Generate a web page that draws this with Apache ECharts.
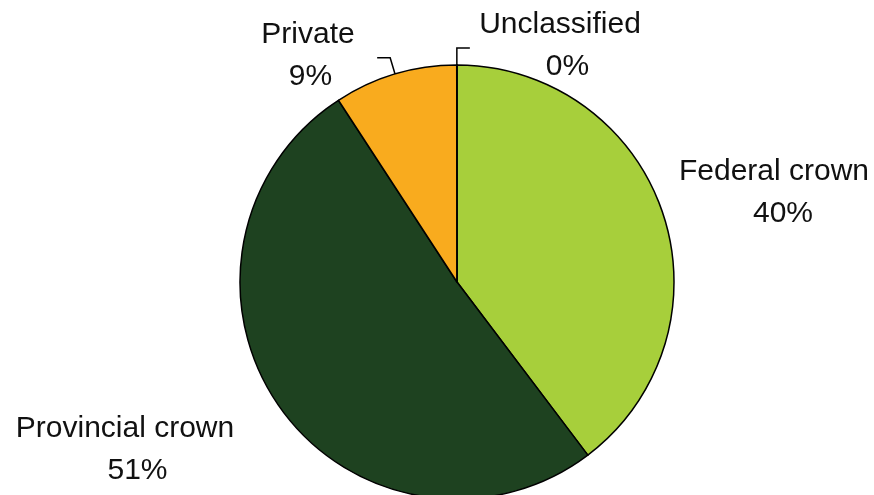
<!DOCTYPE html>
<html>
<head>
<meta charset="utf-8">
<script src="https://cdn.jsdelivr.net/npm/echarts@6/dist/echarts.min.js"></script>
<style>
html,body{margin:0;padding:0;background:#fff;}
#chart{width:874px;height:495px;}
</style>
</head>
<body>
<div id="chart"></div>
<script>
// Data
var categories = ['Federal crown', 'Provincial crown', 'Private', 'Unclassified'];
var values = [39.7, 51.1, 9.18, 0.02];
var colors = ['#a7cf3b', '#1e4220', '#f9ab1e', '#a7cf3b'];

// Layout (label block centres and leader-line visibility)
var labelCentres = [[774, 193], [125, 450], [308, 56], [560, 46]];
var valueShift = [18, 25, 5, 15];
var showLine = [false, false, true, true];

var data = categories.map(function (c, i) {
  return {
    name: c,
    value: values[i],
    itemStyle: { color: colors[i] },
    labelLine: { show: showLine[i] },
    label: { rich: { v: { padding: [0, 0, 0, valueShift[i]] } } }
  };
});

var chart = echarts.init(document.getElementById('chart'), null, { renderer: 'canvas' });
chart.setOption({
  backgroundColor: '#ffffff',
  animation: false,
  series: [{
    type: 'pie',
    center: [457, 282],
    radius: 217,
    startAngle: 90,
    clockwise: true,
    avoidLabelOverlap: false,
    itemStyle: { borderColor: '#000000', borderWidth: 1.5 },
    label: {
      show: true,
      position: 'outside',
      formatter: function (p) {
        return '{n|' + p.name + '}\n{v|' + Math.round(p.percent) + '%}';
      },
      rich: {
        n: { fontFamily: 'Liberation Sans', fontSize: 30, lineHeight: 42, color: '#111111', align: 'center' },
        v: { fontFamily: 'Liberation Sans', fontSize: 30, lineHeight: 42, color: '#111111', align: 'center' }
      }
    },
    labelLine: {
      show: true,
      length: 17,
      length2: 13,
      smooth: false,
      lineStyle: { color: '#000000', width: 1.5 }
    },
    labelLayout: function (params) {
      var c = labelCentres[params.dataIndex];
      var out = { x: c[0], y: c[1], align: 'center', verticalAlign: 'middle' };
      var pts = params.labelLinePoints;
      if (pts) {
        pts = pts.map(function (p) { return [p[0], p[1]]; });
        // make the horizontal segment point toward the label
        if ((c[0] - pts[1][0]) * (pts[2][0] - pts[1][0]) < 0) {
          pts[2][0] = 2 * pts[1][0] - pts[2][0];
        }
        out.labelLinePoints = pts;
      }
      return out;
    },
    emphasis: { disabled: true },
    data: data
  }]
});
</script>
</body>
</html>
